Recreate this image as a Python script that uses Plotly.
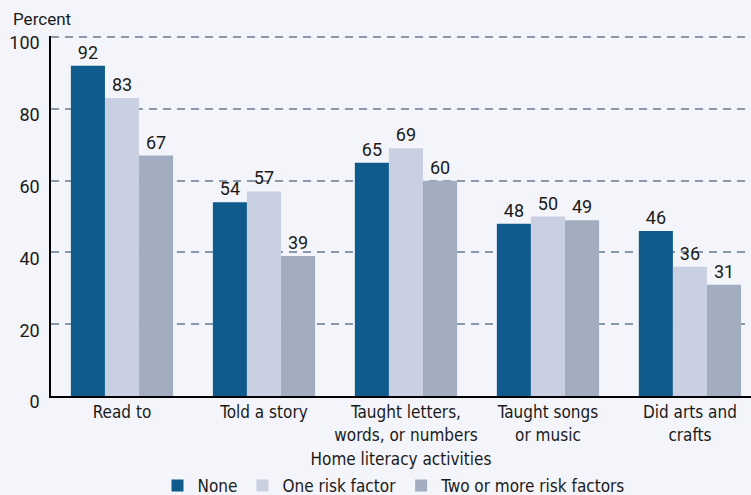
import plotly.graph_objects as go

categories = [
    "Read to",
    "Told a story",
    "Taught letters,<br>words, or numbers",
    "Taught songs<br>or music",
    "Did arts and<br>crafts",
]
none_vals = [92, 54, 65, 48, 46]
one_vals = [83, 57, 69, 50, 36]
two_vals = [67, 39, 60, 49, 31]

series = [
    ("None", none_vals, "#0f5b8e"),
    ("One risk factor", one_vals, "#c9d0e1"),
    ("Two or more risk factors", two_vals, "#a2adbf"),
]

narrow = "DejaVu Sans Condensed, sans-serif"
regular = "Roboto, Liberation Sans, sans-serif"

fig = go.Figure()
for name, vals, color in series:
    fig.add_trace(go.Bar(
        x=categories,
        y=vals,
        name=name,
        marker=dict(color=color, line=dict(width=0)),
        text=vals,
        textposition="outside",
        constraintext="none",
        cliponaxis=False,
        textfont=dict(family=regular, size=18, color="#1a1a1a"),
    ))

fig.update_layout(
    width=751,
    height=495,
    margin=dict(l=51, r=0, t=36, b=99, autoexpand=False),
    paper_bgcolor="#f4f5fa",
    plot_bgcolor="#f4f5fa",
    barmode="group",
    bargap=0.28,
    bargroupgap=0,
    showlegend=True,
    legend=dict(
        orientation="h",
        x=0.49, xanchor="center",
        y=-0.2, yanchor="top",
        font=dict(family=narrow, size=17, color="#1a1a1a"),
        itemwidth=30,
        bgcolor="rgba(0,0,0,0)",
    ),
    font=dict(family=regular, color="#1a1a1a"),
)

fig.update_xaxes(
    range=[-0.5, 4.43],
    automargin=False,
    showline=True,
    linecolor="#000000",
    linewidth=2,
    ticks="",
    tickfont=dict(family=narrow, size=17, color="#1a1a1a"),
    title=dict(text="Home literacy activities",
               font=dict(family=narrow, size=17, color="#1a1a1a"),
               standoff=10),
    showgrid=False,
)

fig.update_yaxes(
    range=[0, 100.3],
    tickvals=[0, 20, 40, 60, 80, 100],
    automargin=False,
    showline=True,
    linecolor="#000000",
    linewidth=1.5,
    ticks="",
    ticklabelshift=6,
    ticklabelstandoff=6,
    tickfont=dict(family=regular, size=18, color="#1a1a1a"),
    showgrid=True,
    gridcolor="#8a98ab",
    griddash="8px,6px",
    gridwidth=1.5,
    zeroline=False,
)

fig.add_annotation(
    text="Percent",
    xref="paper", yref="paper",
    x=-0.057, y=1.0, yshift=5,
    xanchor="left", yanchor="bottom",
    showarrow=False,
    font=dict(family=regular, size=17, color="#1a1a1a"),
)

fig.write_html(
    "out.html",
    config={"displayModeBar": False},
    post_script="document.body.style.margin='0';",
)
